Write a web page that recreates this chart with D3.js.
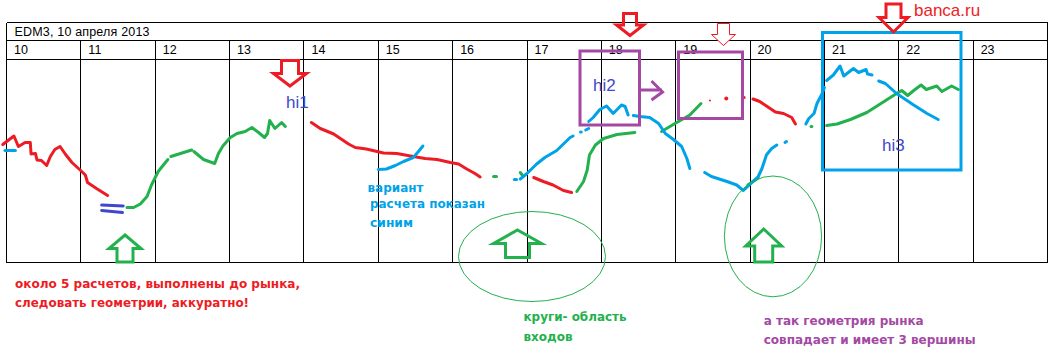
<!DOCTYPE html>
<meta charset="utf-8">
<style>
  body { margin: 0; background: #fff; }
  text { font-family: "Liberation Sans", sans-serif; }
  .note { font-family: "DejaVu Sans", sans-serif; font-weight: bold; font-size: 12px; }
  .hi { font-size: 17px; fill: #3f48cc; }
  .stroke { fill: none; stroke-width: 3px; stroke-linecap: round; stroke-linejoin: round; }
  .grid line { stroke: #000; stroke-width: 1px; shape-rendering: crispEdges; }
  .grid text { font-size: 12.5px; fill: #000; text-anchor: start; }
</style>
<script src="https://cdn.jsdelivr.net/npm/d3@7"></script>
<svg id="chart" width="1063" height="356"></svg>
<script>
  var title = "EDM3, 10 апреля 2013";
  var dayTicks = [10, 11, 12, 13, 14, 15, 16, 17, 18, 19, 20, 21, 22, 23, 24];

  // every stroke is a list of [day, level]
  var redStrokes = [
    [[9.95,118],[10.02,122],[10.10,126.5],[10.16,116],[10.25,120],[10.32,120],[10.33,108.5],[10.39,109],[10.41,102.5],[10.47,102],[10.54,97],[10.59,106],[10.65,113],[10.72,116],[10.79,108.5],[10.88,100],[10.99,92.5],[11.06,87.5],[11.09,80],[11.21,74],[11.36,67]],
    [[14.10,140],[14.22,134],[14.40,128.5],[14.60,118.5],[14.69,115],[14.84,113.5],[15.07,109.5],[15.25,109],[15.47,106],[15.63,104],[15.79,103],[15.97,100],[16.08,98.5],[16.19,93.5],[16.30,89],[16.37,85.5]],
    [[17.09,85],[17.22,81],[17.35,77.5],[17.49,72],[17.60,70]],
    [[20.04,163.5],[20.13,161],[20.25,155],[20.34,150.5],[20.45,149],[20.56,145],[20.61,138.5]]
  ];
  var redDots = [[19.46,162,1],[19.68,164,2],[19.92,165,1.5]];

  var greenStrokes = [
    [[11.62,55],[11.71,55],[11.80,58.5],[11.89,66],[11.95,77.5],[12.04,91],[12.11,97.5],[12.17,103]],
    [[12.21,106],[12.49,112.5]],
    [[12.52,111],[12.65,103],[12.80,99],[12.85,109],[12.91,116.5],[13.01,125],[13.10,129],[13.21,131],[13.30,135],[13.39,130],[13.47,125],[13.51,129],[13.54,142],[13.61,134],[13.70,140],[13.75,136]],
    [[16.55,86],[16.59,86]],
    [[16.91,90],[16.94,87]],
    [[17.67,71],[17.76,81],[17.81,92.5],[17.84,107.5],[17.92,117.5],[18.03,124],[18.21,128],[18.45,130]],
    [[18.81,131],[18.99,139],[19.19,147.5],[19.34,159]],
    [[19.97,77.5],[20.11,84.5]],
    [[20.82,136],[20.83,136]],
    [[21.03,137],[21.17,138.5],[21.35,143],[21.57,150],[21.75,158.5],[21.97,169],[22.04,172],[22.12,167],[22.21,172.5],[22.30,177.5],[22.37,173],[22.51,176.5],[22.58,171],[22.71,176.5],[22.80,173]]
  ];

  var blueStrokes = [
    [[9.98,112],[10.12,112]],
    [[15.00,93],[15.11,93.5],[15.23,97],[15.34,101],[15.47,105],[15.54,111],[15.60,116.5]],
    [[16.83,83],[16.86,83]],
    [[16.91,83.5],[17.00,89],[17.13,98.5],[17.24,105],[17.40,112],[17.49,118.5],[17.58,125],[17.62,126.5]],
    [[17.72,130.5],[17.73,130.5]],
    [[17.79,132.5],[17.83,134]],
    [[17.83,141],[17.89,145],[17.98,153],[18.07,156.5],[18.16,149],[18.27,157.5],[18.32,156],[18.36,147.5]],
    [[18.43,147],[18.52,146],[18.65,145],[18.77,139],[18.86,129],[18.97,123],[19.08,116],[19.15,104],[19.19,94]],
    [[19.39,90],[19.48,86],[19.69,81],[19.82,77.5],[19.91,72],[20.11,86],[20.16,94],[20.22,107.5],[20.29,114],[20.36,117.5]],
    [[20.47,120],[20.49,121]],
    [[20.75,138.5],[20.79,144],[20.86,149],[20.90,159],[20.97,169],[21.00,175]],
    [[21.03,182],[21.12,187.5],[21.21,196.5],[21.26,186.5],[21.39,194],[21.46,190],[21.56,193],[21.58,188.5],[21.64,187.5]],
    [[21.73,181.5],[21.82,179],[21.97,169],[22.20,157.5],[22.38,149],[22.53,143]]
  ];

  var indigoStrokes = [
    [[11.28,57.5],[11.57,56.5]],
    [[11.28,52],[11.56,50]]
  ];

  var notes = [
    "вариант", "расчета показан", "синим",
    "около 5 расчетов, выполнены до рынка,", "следовать геометрии, аккуратно!",
    "круги- область", "входов",
    "а так геометрия рынка", "совпадает и имеет 3 вершины"
  ];

  var red = "#ed1c24", green = "#22b14c", blue = "#00a2e8", purple = "#a349a4";
  var chart = d3.select("#chart");

  var x = d3.scaleLinear().domain([10, 24]).range([6.5, 1047.5]);
  var y = d3.scaleLinear().domain([0, 203]).range([262.5, 59.5]);
  var line = d3.line().x(function(d){ return x(d[0]); }).y(function(d){ return y(d[1]); });

  // -----------------------------------
  // Frame and day columns
  var xAxis = d3.axisTop(x).tickValues(dayTicks).tickSize(-222).offset(0)
    .tickFormat(function(d){ return d < 24 ? d : ""; });
  var grid = chart.append("g").attr("class", "grid")
    .attr("transform", "translate(0, 40.5)").call(xAxis);
  grid.select(".domain").remove();
  grid.selectAll("text").attr("x", 7.5).attr("y", 13).attr("dy", 0);

  [22.5, 40.5, 59.5, 262.5].forEach(function(py){
    chart.append("line").attr("x1", x(10)).attr("x2", x(24)).attr("y1", py).attr("y2", py)
      .attr("stroke", "#000").attr("shape-rendering", "crispEdges");
  });
  [10, 24].forEach(function(d){
    chart.append("line").attr("x1", x(d)).attr("x2", x(d)).attr("y1", 22.5).attr("y2", 40.5)
      .attr("stroke", "#000").attr("shape-rendering", "crispEdges");
  });
  chart.append("text").attr("x", 14.5).attr("y", 36).attr("textLength", 135)
    .style("font-size", "12.5px").text(title);

  // Hand drawn strokes
  function drawStrokes(data, color) {
    chart.append("g").selectAll("path").data(data).join("path")
      .attr("class", "stroke").attr("stroke", color).attr("d", line);
  }
  drawStrokes(greenStrokes, green);
  drawStrokes(redStrokes, red);
  drawStrokes(blueStrokes, blue);
  drawStrokes(indigoStrokes, "#3f48cc");
  chart.append("g").selectAll("circle").data(redDots).join("circle")
    .attr("cx", function(d){ return x(d[0]); })
    .attr("cy", function(d){ return y(d[1]); })
    .attr("r", function(d){ return d[2]; })
    .attr("fill", red);

  // Boxes and circles
  function box(x0, y0, x1, y1, color, w) {
    chart.append("rect").attr("x", x0).attr("y", y0).attr("width", x1 - x0).attr("height", y1 - y0)
      .attr("fill", "none").attr("stroke", color).attr("stroke-width", w);
  }
  box(580, 51, 639.5, 125, purple, 3);
  box(678.5, 52, 742.5, 118.5, purple, 3);
  box(822.5, 32.5, 961, 170, blue, 3);
  chart.append("path").attr("fill", "none").attr("stroke", purple).attr("stroke-width", 3)
    .attr("d", "M639.5,90H662M651.5,81L662.5,92L651.5,100");

  function ring(cx, cy, rx, ry) {
    chart.append("ellipse").attr("cx", cx).attr("cy", cy).attr("rx", rx).attr("ry", ry)
      .attr("fill", "none").attr("stroke", green).attr("stroke-width", 1);
  }
  ring(532, 256.5, 73.5, 45);
  ring(773, 236.4, 48.6, 60.4);

  // Block arrows: tip, shoulder line, tail end
  function arrow(cx, tip, shoulder, tail, halfHead, halfShaft, color, w, fill) {
    var pts = [[cx, tip], [cx + halfHead, shoulder], [cx + halfShaft, shoulder], [cx + halfShaft, tail],
               [cx - halfShaft, tail], [cx - halfShaft, shoulder], [cx - halfHead, shoulder]];
    chart.append("path").attr("d", d3.line()(pts) + "Z")
      .attr("fill", fill || "none").attr("stroke", color).attr("stroke-width", w);
  }
  arrow(290, 86, 73.5, 60.5, 16.5, 8.5, red, 3);
  arrow(630, 35.5, 25, 13.5, 13.5, 6.5, red, 3);
  arrow(723.5, 45.5, 34.5, 23.5, 12, 6, red, 1, "#fff");
  arrow(893.5, 32, 17.5, 4, 14.5, 7.5, red, 3);
  arrow(125, 235, 248.5, 262, 16, 8, green, 3);
  arrow(517.5, 230, 243.5, 257.5, 24, 12, green, 3);
  arrow(763.7, 229, 246, 262, 18, 9, green, 3);

  // Text
  function hi(label, px, py) {
    chart.append("text").attr("class", "hi").attr("x", px).attr("y", py).text(label);
  }
  hi("hi1", 286, 107.5);
  hi("hi2", 593, 91);
  hi("hi3", 882, 150.5);
  chart.append("text").attr("x", 914).attr("y", 15.5).style("font-size", "17px").attr("fill", red).text("banca.ru");

  function note(i, px, py, len, color) {
    chart.append("text").attr("class", "note").attr("x", px).attr("y", py)
      .attr("textLength", len).attr("lengthAdjust", "spacingAndGlyphs").attr("fill", color).text(notes[i]);
  }
  note(0, 367.5, 191.5, 56, blue);
  note(1, 370, 207.5, 115, blue);
  note(2, 370, 226.5, 43, blue);
  note(3, 15, 288, 285, red);
  note(4, 15, 307, 234, red);
  note(5, 523.5, 321, 103, green);
  note(6, 523.5, 340.5, 49, green);
  note(7, 763.7, 324.5, 160, purple);
  note(8, 763.7, 343.5, 212, purple);
</script>
